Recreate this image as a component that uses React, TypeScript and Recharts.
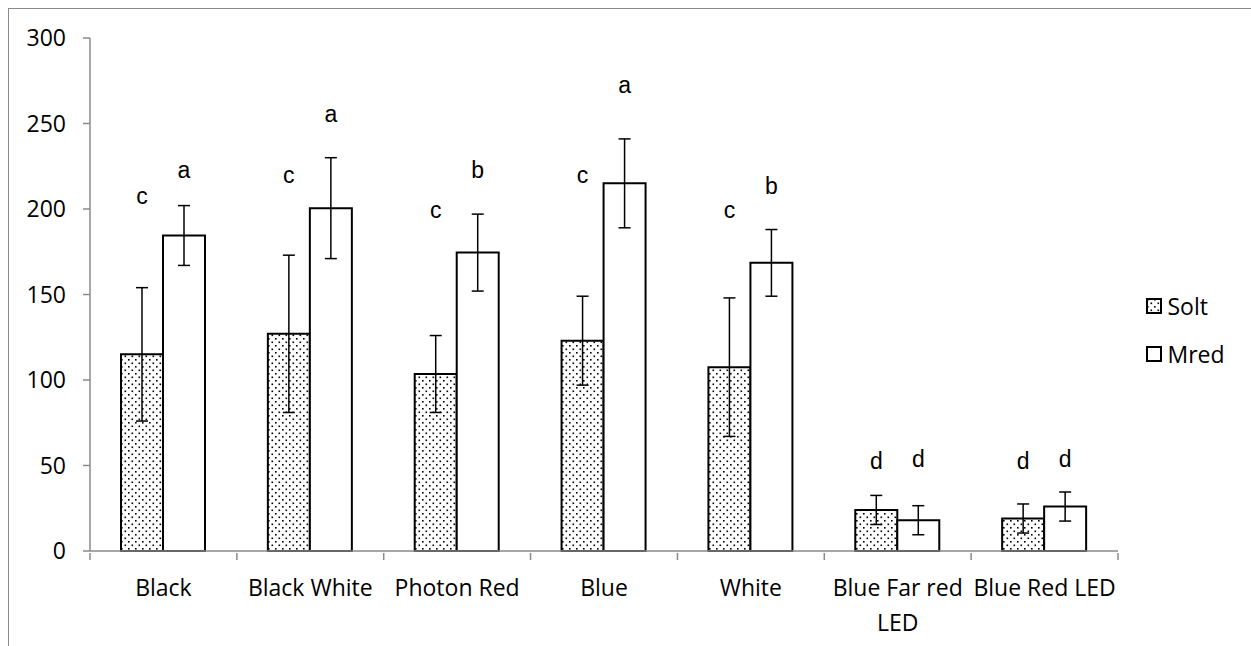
import React from 'react';
import { BarChart, Bar, XAxis, YAxis, ErrorBar, LabelList, Legend } from 'recharts';

const categories = ['Black', 'Black White', 'Photon Red', 'Blue', 'White', 'Blue Far red LED', 'Blue Red LED'];
const soltValues = [115, 127, 103.5, 123, 107.5, 24, 19];
const soltErrors = [39, 46, 22.5, 26, 40.5, 8.5, 8.5];
const mredValues = [184.5, 200.5, 174.5, 215, 168.5, 18, 26];
const mredErrors = [17.5, 29.5, 22.5, 26, 19.5, 8.5, 8.5];
// significance letters and the height (in axis units) of their baseline
const soltLetters = ['c', 'c', 'c', 'c', 'c', 'd', 'd'];
const mredLetters = ['a', 'a', 'b', 'a', 'b', 'd', 'd'];
const soltLetterAt = [203, 215, 195, 215, 195, 48, 48];
const mredLetterAt = [218, 251, 218, 268, 209, 49, 49];
const yTicks = [0, 50, 100, 150, 200, 250, 300];
const legendItems = ['Solt', 'Mred'];

const data = categories.map((name, i) => ({
  name,
  solt: soltValues[i],
  soltErr: soltErrors[i],
  mred: mredValues[i],
  mredErr: mredErrors[i],
}));

const FONT = "'Open Sans', sans-serif";
const AXIS = '#8a8a8a';
const PLOT_W = 1028;
const BAND = PLOT_W / categories.length;

let ctx: CanvasRenderingContext2D | null = null;
const textWidth = (s: string) => {
  if (!ctx) ctx = document.createElement('canvas').getContext('2d');
  if (!ctx) return s.length * 12;
  ctx.font = "23px 'Open Sans'";
  return ctx.measureText(s).width;
};

// greedy word wrap, like Excel does for long category names
const wrap = (label: string, maxW: number) => {
  const lines: string[] = [];
  let cur = '';
  label.split(' ').forEach((w) => {
    const next = cur ? cur + ' ' + w : w;
    if (cur && textWidth(next) > maxW) {
      lines.push(cur);
      cur = w;
    } else cur = next;
  });
  if (cur) lines.push(cur);
  return lines;
};

const CategoryTick = (props: any) => {
  const { x, y, payload } = props;
  const index = props.index ?? payload.index;
  const lines = wrap(String(payload.value), 146);
  return (
    <g>
      <line x1={x - BAND / 2} y1={y} x2={x - BAND / 2} y2={y + 7} stroke={AXIS} strokeWidth={1.5} />
      {index === categories.length - 1 && (
        <line x1={x + BAND / 2} y1={y} x2={x + BAND / 2} y2={y + 7} stroke={AXIS} strokeWidth={1.5} />
      )}
      <text x={x} y={y + 43} textAnchor="middle" fill="#000" fontFamily={FONT} fontSize={23}>
        {lines.map((l, i) => (
          <tspan key={i} x={x} dy={i === 0 ? 0 : 35}>
            {l}
          </tspan>
        ))}
      </text>
    </g>
  );
};

const letterLabel = (letters: string[], at: number[], values: number[]) => (props: any) => {
  const vb = props.viewBox ?? props;
  const { x, y, width, height } = vb;
  const index = props.index;
  if (index == null || !height) return null;
  const perUnit = height / values[index];
  const bottom = y + height;
  return (
    <text
      x={x + width / 2}
      y={bottom - at[index] * perUnit}
      textAnchor="middle"
      fontFamily="'Liberation Sans', Arial, sans-serif"
      fontSize={23}
      fill="#000"
    >
      {letters[index]}
    </text>
  );
};

const LegendBox = () => (
  <div style={{ fontFamily: FONT, fontSize: 23, lineHeight: '30px', color: '#000' }}>
    {legendItems.map((name, i) => (
      <div key={name} style={{ display: 'flex', alignItems: 'center', height: 30, marginBottom: i === 0 ? 18 : 0 }}>
        <svg width={16} height={16} style={{ marginRight: 6, flex: 'none' }}>
          <defs>
            <pattern id="dotsLegend" width={7} height={7} patternUnits="userSpaceOnUse">
              <rect width={7} height={7} fill="#fff" />
              <rect x={1} y={1} width={1.6} height={1.6} fill="#000" />
              <rect x={4.5} y={4.5} width={1.6} height={1.6} fill="#000" />
            </pattern>
          </defs>
          <rect
            x={1}
            y={1}
            width={14}
            height={14}
            fill={i === 0 ? 'url(#dotsLegend)' : '#fff'}
            stroke="#000"
            strokeWidth={2}
          />
        </svg>
        <span style={{ whiteSpace: 'nowrap' }}>{name}</span>
      </div>
    ))}
  </div>
);

export default function App() {
  return (
    <div
      style={{
        position: 'absolute',
        left: 8,
        top: 8,
        width: 1243,
        height: 638,
        borderTop: '1.5px solid #8a8a8a',
        borderLeft: '1.5px solid #8a8a8a',
        boxSizing: 'border-box',
        background: '#fff',
      }}
    >
      <BarChart
        width={1243}
        height={638}
        data={data}
        barSize={42}
        barGap={0}
        margin={{ top: 30, right: 133, left: 0, bottom: 0 }}
        style={{ position: 'absolute', left: -1.5, top: -1.5 }}
      >
        <defs>
          <pattern id="dots" width={7} height={7} patternUnits="userSpaceOnUse">
            <rect width={7} height={7} fill="#fff" />
            <rect x={1} y={1} width={1.6} height={1.6} fill="#000" />
            <rect x={4.5} y={4.5} width={1.6} height={1.6} fill="#000" />
          </pattern>
        </defs>
        <XAxis
          dataKey="name"
          height={95}
          interval={0}
          tickSize={0}
          tickLine={false}
          axisLine={{ stroke: AXIS, strokeWidth: 1.5 }}
          tick={(p: any) => <CategoryTick {...p} />}
        />
        <YAxis
          width={82}
          domain={[0, 300]}
          ticks={yTicks}
          interval={0}
          tickSize={7}
          tickMargin={17}
          axisLine={{ stroke: AXIS, strokeWidth: 1.5 }}
          tickLine={{ stroke: AXIS, strokeWidth: 1.5 }}
          tick={{ fill: '#000', fontSize: 23, fontFamily: FONT }}
        />
        <Legend
          layout="vertical"
          align="center"
          verticalAlign="middle"
          wrapperStyle={{ left: 1138, top: 283, width: 100 }}
          content={() => <LegendBox />}
        />
        <Bar dataKey="solt" name="Solt" fill="url(#dots)" stroke="#000" strokeWidth={2} isAnimationActive={false}>
          <ErrorBar dataKey="soltErr" width={6} stroke="#000" strokeWidth={1.5} />
          <LabelList dataKey="solt" content={letterLabel(soltLetters, soltLetterAt, soltValues)} />
        </Bar>
        <Bar dataKey="mred" name="Mred" fill="#fff" stroke="#000" strokeWidth={2} isAnimationActive={false}>
          <ErrorBar dataKey="mredErr" width={6} stroke="#000" strokeWidth={1.5} />
          <LabelList dataKey="mred" content={letterLabel(mredLetters, mredLetterAt, mredValues)} />
        </Bar>
      </BarChart>
    </div>
  );
}
